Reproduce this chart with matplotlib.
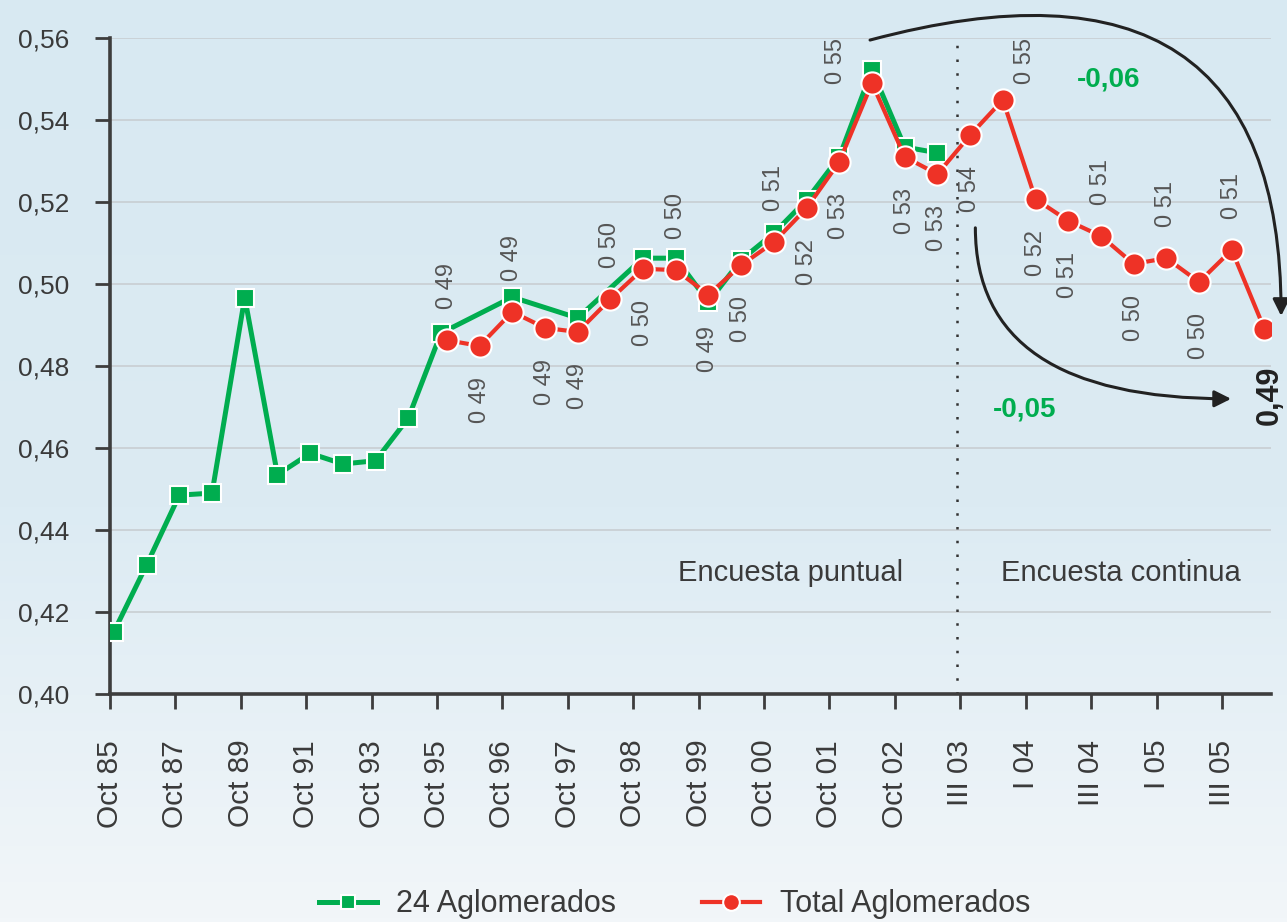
import numpy as np
import matplotlib.pyplot as plt
from matplotlib import font_manager
from matplotlib.colors import LinearSegmentedColormap
from matplotlib.patches import FancyArrowPatch

plt.rcParams['font.family'] = ['Liberation Sans', 'DejaVu Sans']

tick_labels = ['Oct 85', 'Oct 87', 'Oct 89', 'Oct 91', 'Oct 93', 'Oct 95',
               'Oct 96', 'Oct 97', 'Oct 98', 'Oct 99', 'Oct 00', 'Oct 01',
               'Oct 02', 'III 03', 'I 04', 'III 04', 'I 05', 'III 05']

# 24 aglomerados, october waves 1985-1995
green_annual = [0.4152, 0.4315, 0.4485, 0.4490, 0.4967, 0.4535, 0.4587,
                0.4561, 0.4569, 0.4673, 0.4880]

# waves from Oct 95 on (semester, then quarters)
periods = ['Oct 95', 'May 96', 'Oct 96', 'May 97', 'Oct 97', 'May 98',
           'Oct 98', 'May 99', 'Oct 99', 'May 00', 'Oct 00', 'May 01',
           'Oct 01', 'May 02', 'Oct 02', 'May 03', 'III 03', 'IV 03',
           'I 04', 'II 04', 'III 04', 'IV 04', 'I 05', 'II 05', 'III 05',
           'IV 05']
green_semi = [None, None, 0.4968, None, 0.4917, None, 0.5063, 0.5063,
              0.4956, 0.5059, 0.5124, 0.5205, 0.5310, 0.5522, 0.5334,
              0.5320, None, None, None, None, None, None, None, None,
              None, None]
red_semi = [0.4863, 0.4849, 0.4932, 0.4893, 0.4883, 0.4963, 0.5037, 0.5034,
            0.4974, 0.5046, 0.5102, 0.5185, 0.5298, 0.5490, 0.5310, 0.5268,
            0.5363, 0.5449, 0.5207, 0.5154, 0.5117, 0.5049, 0.5063, 0.5005,
            0.5083, 0.4890]
red_labels = ['0 49', '0 49', '0 49', '0 49', '0 49', '0 50', '0 50', '0 50',
              '0 49', '0 50', '0 51', '0 52', '0 53', '0 55', '0 53', '0 53',
              '0 54', '0 55', '0 52', '0 51', '0 51', '0 50', '0 51', '0 50',
              '0 51', '0,49']
label_side = ['a', 'b', 'a', 'b', 'b', 'a', 'b', 'a', 'b', 'b', 'a', 'b', 'b',
              'a', 'b', 'b', 'b', 'a', 'b', 'b', 'a', 'b', 'a', 'b', 'a', 'b']

GREEN = '#00ad4f'
RED = '#ee3226'
DARK = '#3a3a3a'

names = {f.name for f in font_manager.fontManager.ttflist}
narrow = 'Liberation Sans Narrow' if 'Liberation Sans Narrow' in names else 'Liberation Sans'

# x positions in tick units: annual points every half tick up to 95,
# then one point every half tick from Oct 95 on
x_annual = np.arange(len(green_annual)) * 0.5 + 0.06
x_semi = np.arange(len(periods)) * 0.5 + 5.15

xg = list(x_annual) + [x for x, v in zip(x_semi, green_semi) if v is not None]
yg = green_annual + [v for v in green_semi if v is not None]

fig = plt.figure(figsize=(12.87, 9.22), dpi=100)

bg = fig.add_axes([0, 0, 1, 1], zorder=-1)
cmap = LinearSegmentedColormap.from_list(
    'bg', [(0, '#d8e9f2'), (0.55, '#dcebf3'), (1, '#f2f6f9')])
bg.imshow(np.linspace(0, 1, 256)[:, None], aspect='auto', cmap=cmap)
bg.axis('off')

ax = fig.add_axes([110 / 1287, 1 - 694 / 922, 1161 / 1287, 656 / 922])
ax.set_facecolor('none')
ax.set_xlim(0, 17.75)
ax.set_ylim(0.40, 0.56)

yt = np.round(np.arange(0.40, 0.5601, 0.02), 2)
ax.set_yticks(yt)
ax.set_yticklabels(['{:.2f}'.format(v).replace('.', ',') for v in yt])
ax.set_xticks(np.arange(len(tick_labels)))
ax.set_xticklabels(tick_labels)

ax.yaxis.grid(True, color='#c8ced2', lw=1.2)
ax.set_axisbelow(True)
for s in ['top', 'right']:
    ax.spines[s].set_visible(False)
for s in ['left', 'bottom']:
    ax.spines[s].set_color('#3d3d3d')
    ax.spines[s].set_linewidth(2.6)
ax.tick_params(axis='both', length=11, width=2, color='#3d3d3d')
ax.tick_params(axis='y', pad=18, labelsize=19, labelcolor=DARK)
ax.tick_params(axis='x', pad=22, labelsize=21.5, labelrotation=90,
               labelcolor=DARK)

ax.axvline(12.95, color='#333333', lw=1.8, ls=(0, (1, 4.5)), zorder=2)

ax.plot(xg, yg, color=GREEN, lw=3.6, marker='s', ms=13, mfc=GREEN,
        mec='white', mew=1.5, zorder=3, label='24 Aglomerados')
ax.plot(x_semi, red_semi, color=RED, lw=3, marker='o', ms=16, mfc=RED,
        mec='white', mew=1.5, zorder=4, label='Total Aglomerados')

special = {13: (-26, 16), 17: (16, 28), 25: (4, -48)}
for i, (x, v, txt, side) in enumerate(zip(x_semi, red_semi, red_labels, label_side)):
    off = special.get(i, (0, 39 if side == 'a' else -39))
    if i == len(red_semi) - 1:
        ax.annotate(txt, (x, v), xytext=off, textcoords='offset points',
                    rotation=90, ha='center', va='center', fontsize=22,
                    fontweight='bold', color='#222222', annotation_clip=False)
    else:
        ax.annotate(txt, (x, v), xytext=off, textcoords='offset points',
                    rotation=90, ha='center', va='center', fontsize=17,
                    family=narrow, color='#555555')

ax.text(10.41, 0.4295, 'Encuesta puntual', fontsize=21, color=DARK,
        ha='center', va='center')
ax.text(15.46, 0.4295, 'Encuesta continua', fontsize=21, color=DARK,
        ha='center', va='center')

ax.text(15.26, 0.5498, '-0,06', fontsize=20, fontweight='bold', color=GREEN,
        ha='center', va='center')
ax.text(13.99, 0.4695, '-0,05', fontsize=20, fontweight='bold', color=GREEN,
        ha='center', va='center')

style = '-|>,head_length=0.4,head_width=0.2'
top_arrow = FancyArrowPatch((11.62, 0.5595), (17.905, 0.4922),
                            connectionstyle='angle3,angleA=15,angleB=90',
                            arrowstyle=style, mutation_scale=25, lw=2.2,
                            color='#222222', shrinkA=0, shrinkB=0,
                            clip_on=False, zorder=5)
low_arrow = FancyArrowPatch((13.23, 0.5137), (17.14, 0.4720),
                            connectionstyle='angle3,angleA=90,angleB=0',
                            arrowstyle=style, mutation_scale=25, lw=2.2,
                            color='#222222', shrinkA=0, shrinkB=0,
                            clip_on=False, zorder=5)
ax.add_patch(top_arrow)
ax.add_patch(low_arrow)

fig.legend(loc='center', bbox_to_anchor=(0.524, 0.019), ncol=2,
           frameon=False, fontsize=22, markerscale=0.75, handlelength=1.9,
           handletextpad=0.65, columnspacing=2.8, labelcolor=DARK)

fig.savefig('out.png', dpi=100)
